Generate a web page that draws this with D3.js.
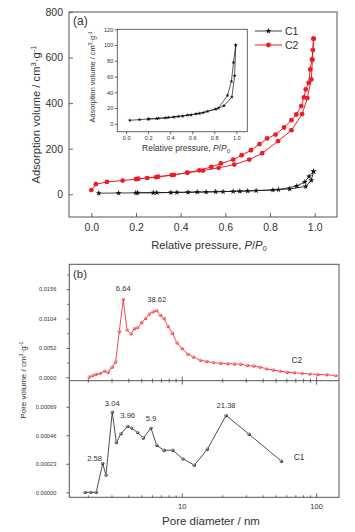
<!DOCTYPE html>
<html><head><meta charset="utf-8">
<script src="https://cdn.jsdelivr.net/npm/d3@7"></script>
<style>body{margin:0;background:#fff}svg{display:block;font-family:"Liberation Sans",Arial,sans-serif}</style>
</head><body><svg id="c" width="355" height="532"></svg>
<script>
// ---------- Data: panel (a) isotherms ----------
const c1AdsP = [0.033,0.122,0.199,0.277,0.356,0.433,0.514,0.590,0.665,0.738,0.813,0.888,0.960,0.985,0.995];
const c1AdsV = [4.5,5.3,6.0,6.6,7.5,8.5,9.8,11.3,13.2,15.8,18.5,23,34,61,100];
const c1DesP = [0.995,0.975,0.956,0.920,0.838,0.700,0.635,0.557,0.474,0.383,0.293,0.207];
const c1DesV = [100,78,54,36,20,14.2,12.6,11,9.5,8,7,6.2];
const c2AdsP = [0.00,0.02,0.07,0.14,0.20,0.25,0.30,0.36,0.43,0.50,0.57,0.64,0.707,0.765,0.836,0.896,0.944,0.967,0.985,0.990,0.995];
const c2AdsV = [18,44,54,60,66,71,77,84,94,104,116,130,152,180,233,281,352,422,504,590,683];
const c2DesP = [0.995,0.992,0.988,0.980,0.973,0.960,0.952,0.940,0.918,0.896,0.863,0.825,0.787,0.753,0.715,0.673,0.635,0.580,0.537,0.484,0.43,0.37,0.29,0.21];
const c2DesV = [683,633,592,548,489,460,425,387,350,325,293,262,245,220,193,171,152,135,120,105,95,85,75,68];
const seriesNames = ["C1","C2"];
const xTicksA = [0,0.2,0.4,0.6,0.8,1.0];
const yTicksA = [0,200,400,600,800];
const xTicksInset = [0,0.2,0.4,0.6,0.8,1.0];
const yTicksInset = [0,20,40,60,80,100,120];

// ---------- Data: panel (b) pore size distributions ----------
const c2D = [2.05,2.17,2.30,2.47,2.66,2.83,3.03,3.22,3.43,3.67,3.91,4.19,4.44,4.70,5.03,5.39,5.74,6.11,6.51,6.93,7.39,7.91,8.51,9.22,10.05,11.1,12.2,13.8,15.4,17.2,19.5,22.0,24.7,27.5,30.8,34.4,38.3,42.7,47.9,54.0,60.8,68.9,78.6,89.8,103,120,140];
const c2PV = [0.00005,0.0003,0.00053,0.0007,0.0011,0.0009,0.0018,0.0027,0.0081,0.0138,0.0084,0.0077,0.0086,0.0088,0.0097,0.0104,0.0112,0.0116,0.0118,0.0110,0.0104,0.0090,0.0078,0.0061,0.0051,0.0041,0.0036,0.0030,0.0028,0.0026,0.0025,0.0024,0.00235,0.0023,0.0021,0.0020,0.0018,0.0015,0.0013,0.0011,0.0009,0.0008,0.0007,0.0006,0.0005,0.00046,0.0003];
const c1D = [1.91,2.10,2.31,2.58,2.73,3.04,3.26,3.53,3.96,4.24,4.70,5.18,5.90,6.51,7.39,8.57,10.2,12.4,15.5,21.38,31.7,55.2];
const c1PV = [0,0,0,0.000233,0.000139,0.000647,0.000401,0.000473,0.000532,0.000518,0.000481,0.000438,0.000518,0.000379,0.000339,0.000339,0.000270,0.000219,0.000347,0.000620,0.000468,0.000251];
const c2Peaks = ["6.64","38.62"];
const c2PeakIdx = [9,18];
const c1Peaks = ["2.58","3.04","3.96","5.9","21.38"];
const c1PeakIdx = [3,5,8,12,19];
const yTicksBU = [0,0.0052,0.0104,0.0156];
const yMinorBU = [0.0026,0.0078,0.0130,0.0182];
const yTicksBL = [0,0.00023,0.00046,0.00069];
const xMajorB = [10,100];
const xMinorB = [2,3,4,5,6,7,8,9,20,30,40,50,60,70,80,90];

// ---------- Setup ----------
const svg = d3.select("#c");
const axisCol = "#555";
const red = "#ee1c24";
const txt = "#333";
const defs = svg.append("defs");
function grad(id, c0, c1){
  const g = defs.append("radialGradient").attr("id",id).attr("cx","38%").attr("cy","35%").attr("r","65%");
  g.append("stop").attr("offset","0%").attr("stop-color",c0);
  g.append("stop").attr("offset","100%").attr("stop-color",c1);
}
grad("gRed","#ffc0c0",red);
grad("gBlk","#c8c8c8","#111");

function rich(t, parts, fs){
  let cur = 0;
  parts.forEach(([s,type])=>{
    const target = type===1 ? -0.38*fs : type===-1 ? 0.22*fs : 0;
    const ts = t.append("tspan").text(s).attr("dy", target-cur);
    if(type===1||type===-1) ts.attr("font-size", fs*0.68);
    if(type===2) ts.attr("font-style","italic");
    cur = target;
  });
}
function zip(a,b){ return a.map((v,i)=>[v,b[i]]); }
function styleAxis(g, fs){
  g.select(".domain").remove();
  g.selectAll("line").attr("stroke",axisCol).attr("stroke-width",0.9);
  g.selectAll("text").attr("fill",txt).attr("font-size",fs).attr("font-family",'"Liberation Sans",Arial,sans-serif');
}

// ================= Panel (a) =================
const xA = d3.scaleLinear([-0.1,1.1],[69,337]);
const yA = d3.scaleLinear([-100,800],[217,12]);
const gA = svg.append("g");
gA.append("rect").attr("x",69).attr("y",12).attr("width",268).attr("height",205)
  .attr("fill","none").attr("stroke",axisCol).attr("stroke-width",1);
gA.append("g").attr("transform","translate(0,217)")
  .call(d3.axisBottom(xA).tickValues(xTicksA).tickSize(-4).tickPadding(7).tickFormat(d3.format(".1f")))
  .call(g=>styleAxis(g,10.5));
gA.append("g").attr("transform","translate(69,0)")
  .call(d3.axisLeft(yA).tickValues(yTicksA).tickSize(-4).tickPadding(6).tickFormat(d3.format("d")))
  .call(g=>styleAxis(g,10.5));

const lineA = d3.line().x(d=>xA(d[0])).y(d=>yA(d[1]));
const c2a = zip(c2AdsP,c2AdsV), c2d = zip(c2DesP,c2DesV);
const c1a = zip(c1AdsP,c1AdsV), c1d = zip(c1DesP,c1DesV);
gA.append("path").attr("d",lineA(c2a)).attr("fill","none").attr("stroke",red).attr("stroke-width",1);
gA.append("path").attr("d",lineA(c2d)).attr("fill","none").attr("stroke",red).attr("stroke-width",1);
gA.append("path").attr("d",lineA(c1a)).attr("fill","none").attr("stroke","#111").attr("stroke-width",0.8);
gA.append("path").attr("d",lineA(c1d)).attr("fill","none").attr("stroke","#111").attr("stroke-width",0.8);
gA.selectAll("circle.c2").data(c2a.concat(c2d)).join("circle").attr("class","c2")
  .attr("cx",d=>xA(d[0])).attr("cy",d=>yA(d[1])).attr("r",2.4).attr("fill",red);
const starBig = d3.symbol(d3.symbolStar, 11)();
gA.selectAll("path.c1").data(c1a.concat(c1d)).join("path").attr("class","c1")
  .attr("d",starBig).attr("transform",d=>`translate(${xA(d[0])},${yA(d[1])})`).attr("fill","#111");

gA.append("text").attr("x",73).attr("y",25).attr("font-size",12).attr("fill",txt).text("(a)");

const tA = gA.append("text").attr("x",209).attr("y",249).attr("text-anchor","middle").attr("font-size",11.2).attr("fill",txt);
rich(tA, [["Relative pressure, ",0],["P",2],["/",0],["P",2],["0",-1]], 11.2);
const yAt = gA.append("text").attr("transform","translate(40,114.5) rotate(-90)").attr("text-anchor","middle").attr("font-size",11.2).attr("fill",txt);
rich(yAt, [["Adsorption volume / cm",0],["3",1],["·g",0],["-1",1]], 11.2);

// legend
const legY = [31,45];
seriesNames.forEach((n,i)=>{
  const col = i===0 ? "#111" : red;
  gA.append("line").attr("x1",255).attr("x2",282).attr("y1",legY[i]).attr("y2",legY[i]).attr("stroke",col).attr("stroke-width",i===0?0.8:1);
  if(i===0) gA.append("path").attr("d",starBig).attr("transform",`translate(268.5,${legY[i]})`).attr("fill","#111");
  else gA.append("circle").attr("cx",268.5).attr("cy",legY[i]).attr("r",2.4).attr("fill",red);
  gA.append("text").attr("x",285).attr("y",legY[i]+3.6).attr("font-size",10.5).attr("fill",txt).text(n);
});

// inset
const xI = d3.scaleLinear([-0.08,1.1],[117.3,247.3]);
const yI = d3.scaleLinear([-10,120],[131.7,29.3]);
const gI = svg.append("g");
gI.append("rect").attr("x",117.3).attr("y",29.3).attr("width",130).attr("height",102.4)
  .attr("fill","#fff").attr("stroke",axisCol).attr("stroke-width",0.9);
gI.append("g").attr("transform","translate(0,131.7)")
  .call(d3.axisBottom(xI).tickValues(xTicksInset).tickSize(2.5).tickPadding(1.5).tickFormat(d3.format(".1f")))
  .call(g=>styleAxis(g,5.6));
gI.append("g").attr("transform","translate(117.3,0)")
  .call(d3.axisLeft(yI).tickValues(yTicksInset).tickSize(2.5).tickPadding(1.5).tickFormat(d3.format("d")))
  .call(g=>styleAxis(g,5.6));
const lineI = d3.line().x(d=>xI(d[0])).y(d=>yI(d[1]));
gI.append("path").attr("d",lineI(c1a)).attr("fill","none").attr("stroke","#111").attr("stroke-width",0.7);
gI.append("path").attr("d",lineI(c1d)).attr("fill","none").attr("stroke","#111").attr("stroke-width",0.7);
const starSm = d3.symbol(d3.symbolStar, 5)();
gI.selectAll("path.s").data(c1a.concat(c1d)).join("path").attr("class","s")
  .attr("d",starSm).attr("transform",d=>`translate(${xI(d[0])},${yI(d[1])})`).attr("fill","#111");
const tI = gI.append("text").attr("x",186).attr("y",151).attr("text-anchor","middle").attr("font-size",8.5).attr("fill",txt);
rich(tI, [["Relative pressure, ",0],["P",2],["/",0],["P",2],["0",-1]], 8.5);
const yIt = gI.append("text").attr("transform","translate(94.5,77) rotate(-90)").attr("text-anchor","middle").attr("font-size",7.4).attr("fill",txt);
rich(yIt, [["Adsorption volume / cm",0],["3",1],["·g",0],["-1",1]], 7.4);

// ================= Panel (b) =================
const xB = d3.scaleLog([1.456,148],[69.3,339]);
const yU = d3.scaleLinear([-0.0006,0.02],[380.7,264.3]);
const yL = d3.scaleLinear([-0.00004,0.0009],[497.3,380.7]);
const gB = svg.append("g");
gB.append("rect").attr("x",69.3).attr("y",264.3).attr("width",269.7).attr("height",233)
  .attr("fill","none").attr("stroke",axisCol).attr("stroke-width",1);
gB.append("line").attr("x1",69.3).attr("x2",339).attr("y1",380.7).attr("y2",380.7).attr("stroke",axisCol).attr("stroke-width",1);

// x ticks: divider (pointing up), lower top (pointing down), bottom (pointing up); dir = +1 down, -1 up
const tickRows = [[380.7,-1,false],[380.7,1,false],[497.3,-1,true]];
tickRows.forEach(([yy,dir,lab])=>{
  gB.append("g").attr("transform",`translate(0,${yy})`)
    .call(d3.axisBottom(xB).tickValues(xMinorB).tickSize(2*dir).tickFormat(""))
    .call(g=>styleAxis(g,7));
  gB.append("g").attr("transform",`translate(0,${yy})`)
    .call(d3.axisBottom(xB).tickValues(xMajorB).tickSize(4*dir).tickPadding(6).tickFormat(lab ? d3.format("d") : ""))
    .call(g=>styleAxis(g,7.5));
});

gB.append("g").attr("transform","translate(69.3,0)")
  .call(d3.axisLeft(yU).tickValues(yTicksBU).tickSize(3).tickPadding(10).tickFormat(d3.format(".4f")))
  .call(g=>styleAxis(g,5.7));
gB.append("g").attr("transform","translate(69.3,0)")
  .call(d3.axisLeft(yU).tickValues(yMinorBU).tickSize(2).tickFormat(""))
  .call(g=>styleAxis(g,5.7));
gB.append("g").attr("transform","translate(69.3,0)")
  .call(d3.axisLeft(yL).tickValues(yTicksBL).tickSize(3).tickPadding(10).tickFormat(d3.format(".5f")))
  .call(g=>styleAxis(g,5.7));

const c2b = zip(c2D,c2PV), c1b = zip(c1D,c1PV);
gB.append("path").attr("d",d3.line().x(d=>xB(d[0])).y(d=>yU(d[1]))(c2b))
  .attr("fill","none").attr("stroke",red).attr("stroke-width",0.8);
gB.selectAll("circle.b2").data(c2b).join("circle").attr("class","b2")
  .attr("cx",d=>xB(d[0])).attr("cy",d=>yU(d[1])).attr("r",1.7).attr("fill","url(#gRed)");
gB.append("path").attr("d",d3.line().x(d=>xB(d[0])).y(d=>yL(d[1]))(c1b))
  .attr("fill","none").attr("stroke","#222").attr("stroke-width",0.8);
gB.selectAll("circle.b1").data(c1b).join("circle").attr("class","b1")
  .attr("cx",d=>xB(d[0])).attr("cy",d=>yL(d[1])).attr("r",1.7).attr("fill","url(#gBlk)");

// peak labels
c2Peaks.forEach((s,i)=>{
  const d = c2b[c2PeakIdx[i]];
  gB.append("text").attr("x",xB(d[0])).attr("y",yU(d[1])-8.5).attr("text-anchor","middle")
    .attr("font-size",7.6).attr("fill",txt).text(s);
});
const c1Off = [[-8,-2.5],[0,-5.8],[0,-8.5],[0,-6.8],[0,-7.5]];
c1Peaks.forEach((s,i)=>{
  const d = c1b[c1PeakIdx[i]];
  gB.append("text").attr("x",xB(d[0])+c1Off[i][0]).attr("y",yL(d[1])+c1Off[i][1]).attr("text-anchor","middle")
    .attr("font-size",7.6).attr("fill",txt).text(s);
});
gB.append("text").attr("x",296.7).attr("y",363).attr("text-anchor","middle").attr("font-size",8.3).attr("fill",txt).text("C2");
gB.append("text").attr("x",299).attr("y",460.3).attr("text-anchor","middle").attr("font-size",8.3).attr("fill",txt).text("C1");

gB.append("text").attr("x",73).attr("y",277.5).attr("font-size",11.5).attr("fill",txt).text("(b)");
gB.append("text").attr("x",211).attr("y",524.8).attr("text-anchor","middle").attr("font-size",11.5).attr("fill",txt).text("Pore diameter / nm");
const yBt = gB.append("text").attr("transform","translate(26,380) rotate(-90)").attr("text-anchor","middle").attr("font-size",8).attr("fill",txt);
rich(yBt, [["Pore volume / cm",0],["3",1],["·g",0],["-1",1]], 8);
</script></body></html>
